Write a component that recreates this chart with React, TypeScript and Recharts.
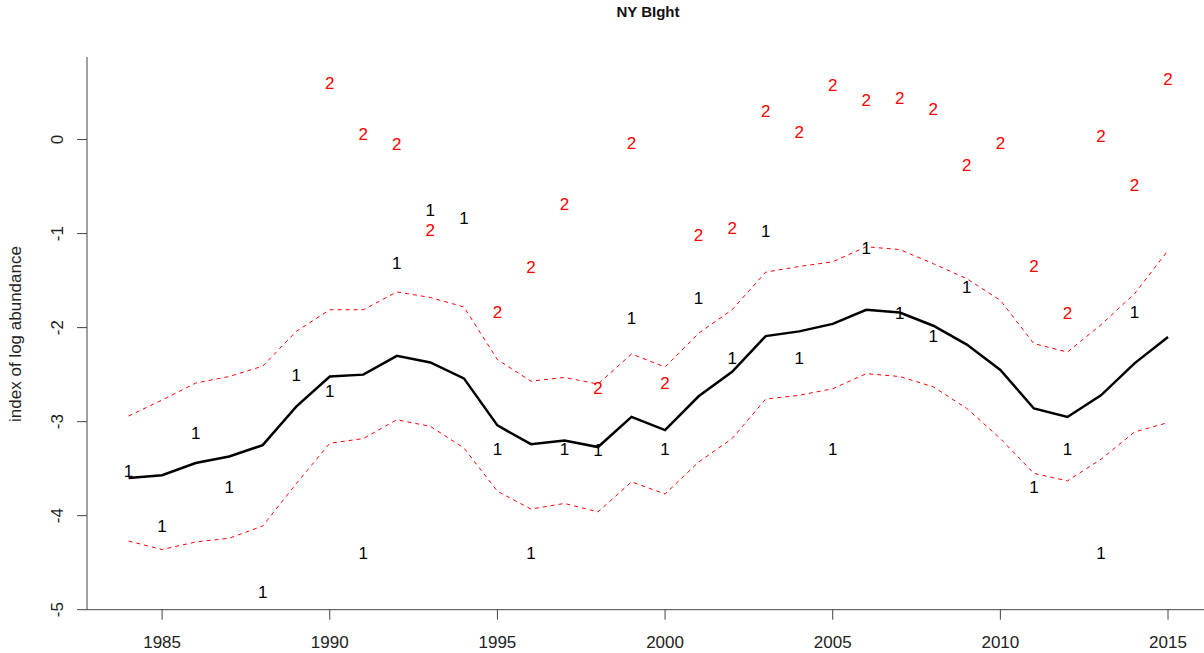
import { ComposedChart, Line, Scatter, XAxis, YAxis } from "recharts";

const years = [
  1984, 1985, 1986, 1987, 1988, 1989, 1990, 1991, 1992, 1993, 1994, 1995, 1996,
  1997, 1998, 1999, 2000, 2001, 2002, 2003, 2004, 2005, 2006, 2007, 2008, 2009,
  2010, 2011, 2012, 2013, 2014, 2015,
];

// observed index, survey 1 (black "1") and survey 2 (red "2")
const indexOne = [
  -3.52, -4.11, -3.12, -3.7, -4.81, -2.5, -2.67, -4.4, -1.31, -0.75, -0.83,
  -3.29, -4.4, -3.29, -3.3, -1.9, -3.29, -1.68, -2.32, -0.97, -2.32, -3.29,
  -1.15, -1.84, -2.09, -1.57, null, -3.7, -3.29, -4.4, -1.83, null,
];
const indexTwo = [
  null, null, null, null, null, null, 0.6, 0.06, -0.05, -0.96, null, -1.83,
  -1.36, -0.69, -2.64, -0.04, -2.59, -1.02, -0.94, 0.3, 0.08, 0.58, 0.42, 0.44,
  0.32, -0.27, -0.04, -1.35, -1.84, 0.04, -0.48, 0.64,
];

// fitted trend with upper / lower bounds
const meanIndex = [
  -3.6, -3.57, -3.44, -3.37, -3.25, -2.84, -2.52, -2.5, -2.3, -2.37, -2.54,
  -3.04, -3.24, -3.2, -3.27, -2.95, -3.09, -2.73, -2.47, -2.09, -2.04, -1.96,
  -1.81, -1.84, -1.98, -2.18, -2.45, -2.86, -2.95, -2.72, -2.38, -2.1,
];
const upperIndex = [
  -2.94, -2.77, -2.59, -2.52, -2.41, -2.04, -1.81, -1.81, -1.62, -1.68, -1.78,
  -2.34, -2.57, -2.53, -2.6, -2.28, -2.42, -2.06, -1.81, -1.41, -1.35, -1.3,
  -1.14, -1.17, -1.32, -1.48, -1.71, -2.17, -2.26, -1.97, -1.64, -1.18,
];
const lowerIndex = [
  -4.27, -4.36, -4.28, -4.24, -4.11, -3.66, -3.23, -3.18, -2.98, -3.05, -3.28,
  -3.74, -3.93, -3.87, -3.96, -3.64, -3.77, -3.43, -3.18, -2.76, -2.72, -2.65,
  -2.49, -2.52, -2.63, -2.86, -3.18, -3.55, -3.63, -3.4, -3.11, -3.01,
];

const xTicks = [1985, 1990, 1995, 2000, 2005, 2010, 2015];
const yTicks = [-5, -4, -3, -2, -1, 0];

const FONT = "'Liberation Sans', Arial, sans-serif";
const AXIS_COLOR = "#444";

const lineData = years.map((year, i) => ({
  year,
  mean: meanIndex[i],
  upper: upperIndex[i],
  lower: lowerIndex[i],
}));

const onePoints = years
  .map((year, i) => ({ year, v: indexOne[i] }))
  .filter((p) => p.v !== null);
const twoPoints = years
  .map((year, i) => ({ year, v: indexTwo[i] }))
  .filter((p) => p.v !== null);

const digitShape = (label: string, color: string) => (props: any) => {
  const { cx, cy } = props;
  if (cx == null || cy == null) return <g />;
  // centre the digit glyph (not the em box) on the point
  return (
    <text
      x={cx}
      y={cy + 6}
      textAnchor="middle"
      fill={color}
      fontFamily={FONT}
      fontSize={17}
    >
      {label}
    </text>
  );
};

const XTick = (props: any) => {
  const { x, y, payload } = props;
  return (
    <text
      x={x}
      y={y + 26}
      textAnchor="middle"
      fill="#222"
      fontFamily={FONT}
      fontSize={17}
    >
      {payload.value}
    </text>
  );
};

const YTick = (props: any) => {
  const { y, payload } = props;
  return (
    <text
      x={63}
      y={y}
      transform={`rotate(-90, 63, ${y})`}
      textAnchor="middle"
      fill="#222"
      fontFamily={FONT}
      fontSize={17}
    >
      {payload.value}
    </text>
  );
};

export default function App() {
  return (
    <div
      style={{
        position: "absolute",
        left: 0,
        top: 0,
        width: 1204,
        height: 653,
        overflow: "hidden",
        background: "#fff",
      }}
    >
      <div
        style={{
          position: "absolute",
          left: 0,
          top: 3,
          width: 1296,
          textAlign: "center",
          fontFamily: FONT,
          fontWeight: "bold",
          fontSize: 15,
          color: "#111",
        }}
      >
        NY BIght
      </div>
      <ComposedChart
        width={1220}
        height={653}
        data={lineData}
        margin={{ top: 57, right: 10.4, left: 0, bottom: 13.3 }}
      >
        <XAxis
          type="number"
          dataKey="year"
          domain={[1982.76, 2016.24]}
          ticks={xTicks}
          allowDataOverflow
          height={30}
          tickSize={10}
          tick={<XTick />}
          stroke={AXIS_COLOR}
        />
        <YAxis
          type="number"
          domain={[-5, 0.878]}
          ticks={yTicks}
          allowDataOverflow
          width={87}
          tickSize={10}
          tick={<YTick />}
          stroke={AXIS_COLOR}
          label={{
            content: () => (
              <text
                x={21}
                y={334}
                transform="rotate(-90, 21, 334)"
                textAnchor="middle"
                fill="#222"
                fontFamily={FONT}
                fontSize={17}
              >
                index of log abundance
              </text>
            ),
          }}
        />
        <Line
          dataKey="upper"
          stroke="#ff0000"
          strokeWidth={1}
          strokeDasharray="4 4"
          dot={false}
          activeDot={false}
          isAnimationActive={false}
        />
        <Line
          dataKey="lower"
          stroke="#ff0000"
          strokeWidth={1}
          strokeDasharray="4 4"
          dot={false}
          activeDot={false}
          isAnimationActive={false}
        />
        <Line
          dataKey="mean"
          stroke="#000"
          strokeWidth={2.5}
          dot={false}
          activeDot={false}
          isAnimationActive={false}
        />
        <Scatter
          data={onePoints}
          dataKey="v"
          shape={digitShape("1", "#000")}
          isAnimationActive={false}
        />
        <Scatter
          data={twoPoints}
          dataKey="v"
          shape={digitShape("2", "#ff0000")}
          isAnimationActive={false}
        />
      </ComposedChart>
    </div>
  );
}
